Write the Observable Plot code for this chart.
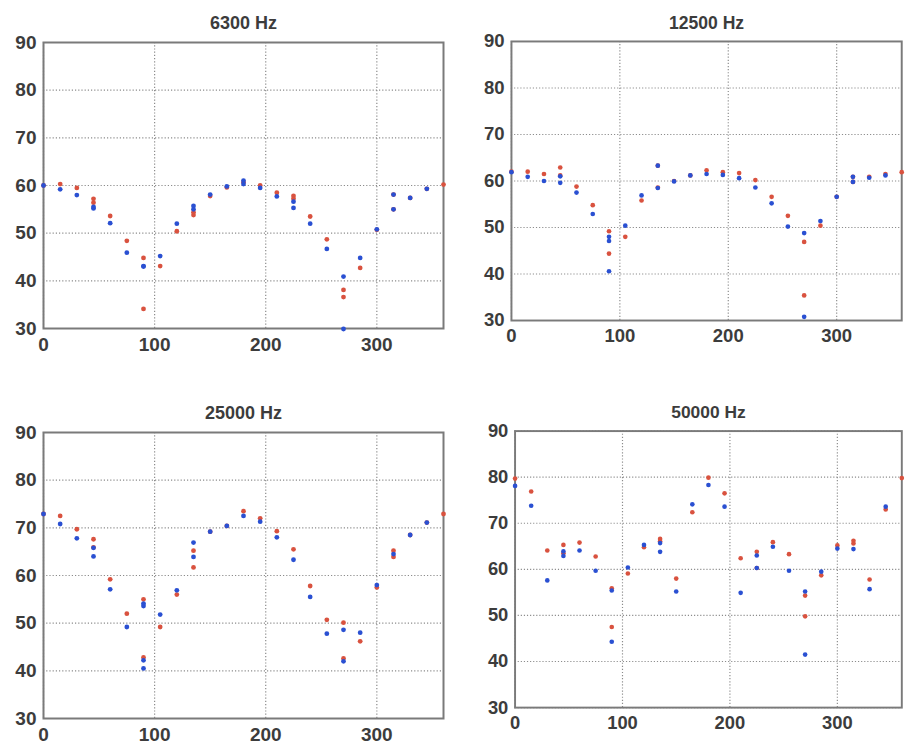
<!DOCTYPE html>
<html>
<head>
<meta charset="utf-8">
<script src="https://cdn.jsdelivr.net/npm/d3@7"></script>
<script src="https://cdn.jsdelivr.net/npm/@observablehq/plot@0.6"></script>
<style>
  html, body { margin: 0; padding: 0; background: #fff; overflow: hidden; }
  #wrap { position: relative; width: 911px; height: 746px; overflow: hidden; }
  #wrap > div { position: absolute; }
</style>
</head>
<body>
<div id="wrap">
  <div id="p1" style="left:0px;top:0px"></div>
  <div id="p2" style="left:469px;top:0px"></div>
  <div id="p3" style="left:0px;top:390px"></div>
  <div id="p4" style="left:473px;top:390px"></div>
</div>
<script>
// Panel titles
const titles = ["6300 Hz", "12500 Hz", "25000 Hz", "50000 Hz"];
const xTicks = [0, 100, 200, 300];
const yTicks = [30, 40, 50, 60, 70, 80, 90];

// Angle (deg) and level (dB) pairs for each frequency; red and blue series
const red6300 = [
  [0,60.0],[15,60.3],[30,59.5],[45,57.2],[45,56.4],[60,53.6],[75,48.4],[90,44.8],[90,34.1],
  [105,43.1],[120,50.4],[135,54.4],[135,53.8],[150,57.8],[165,59.6],[180,60.7],[195,60.0],
  [210,58.5],[225,57.8],[225,57.2],[240,53.5],[255,48.7],[270,38.1],[270,36.6],[285,42.7],
  [300,50.7],[315,58.1],[315,55.0],[330,57.4],[345,59.3],[360,60.2]
];
const blue6300 = [
  [0,60.0],[15,59.2],[30,58.0],[45,55.5],[45,55.2],[60,52.1],[75,45.9],[90,43.1],[90,43.0],
  [105,45.2],[120,52.0],[135,55.7],[135,55.0],[150,58.1],[165,59.8],[180,61.0],[180,60.3],
  [195,59.5],[210,57.7],[225,56.6],[225,55.3],[240,52.0],[255,46.7],[270,40.9],[270,29.9],
  [285,44.8],[300,50.8],[315,58.1],[315,55.0],[330,57.4],[345,59.3]
];
const red12500 = [
  [0,62.0],[15,62.0],[30,61.5],[45,62.9],[45,61.2],[60,58.8],[75,54.8],[90,49.2],[90,44.4],
  [105,48.0],[120,55.8],[135,63.3],[135,58.6],[150,60.0],[165,61.2],[180,62.3],[195,61.9],
  [210,61.7],[225,60.2],[240,56.6],[255,52.5],[270,46.9],[270,35.4],[285,50.4],[300,56.6],
  [315,60.9],[315,59.8],[330,60.9],[345,61.5],[360,61.9]
];
const blue12500 = [
  [0,61.9],[15,60.9],[30,60.0],[45,61.0],[45,59.6],[60,57.5],[75,52.9],[90,48.0],[90,47.1],
  [90,40.6],[105,50.4],[120,56.9],[135,63.3],[135,58.5],[150,59.9],[165,61.2],[180,61.5],
  [195,61.3],[210,60.6],[225,58.6],[240,55.2],[255,50.2],[270,48.8],[270,30.8],[285,51.4],
  [300,56.6],[315,60.9],[315,59.8],[330,60.7],[345,61.2]
];
const red25000 = [
  [0,72.9],[15,72.5],[30,69.7],[45,67.6],[45,65.9],[60,59.2],[75,52.0],[90,55.0],[90,42.8],
  [105,49.2],[120,56.0],[135,65.2],[135,61.7],[150,69.2],[165,70.4],[180,73.5],[195,72.0],
  [210,69.3],[225,65.5],[240,57.8],[255,50.7],[270,50.1],[270,42.6],[285,46.2],[300,57.5],
  [315,65.2],[315,63.9],[330,68.5],[345,71.1],[360,72.9]
];
const blue25000 = [
  [0,72.9],[15,70.8],[30,67.8],[45,65.8],[45,64.0],[60,57.1],[75,49.2],[90,54.1],[90,53.6],
  [90,42.2],[90,40.5],[105,51.8],[120,56.9],[135,66.9],[135,63.9],[150,69.2],[165,70.4],
  [180,72.5],[195,71.3],[210,68.0],[225,63.3],[240,55.5],[255,47.8],[270,48.6],[270,42.0],
  [285,48.0],[300,58.0],[315,64.5],[330,68.5],[345,71.1]
];
const red50000 = [
  [0,79.7],[15,76.9],[30,64.1],[45,65.3],[45,63.5],[60,65.8],[75,62.8],[90,55.9],[90,47.5],
  [105,59.1],[120,64.8],[135,66.6],[135,66.1],[150,58.0],[165,72.4],[180,79.9],[195,76.5],
  [210,62.4],[225,63.8],[225,60.3],[240,65.9],[255,63.3],[270,54.3],[270,49.8],[285,58.7],
  [300,65.2],[315,66.2],[315,65.6],[330,57.8],[345,73.0],[360,79.8]
];
const blue50000 = [
  [0,78.1],[15,73.8],[30,57.6],[45,63.9],[45,62.9],[60,64.1],[75,59.7],[90,55.4],[90,44.3],
  [105,60.4],[120,65.3],[135,65.7],[135,63.8],[150,55.2],[165,74.1],[180,78.3],[195,73.6],
  [210,54.9],[225,63.0],[225,60.3],[240,64.9],[255,59.7],[270,55.2],[270,41.5],[285,59.5],
  [300,64.5],[315,64.4],[330,55.7],[345,73.6]
];

const series = [
  [red6300, blue6300],
  [red12500, blue12500],
  [red25000, blue25000],
  [red50000, blue50000]
];

const RED = "#d9523f";
const BLUE = "#2a50d2";

function panel(i, marginBottom) {
  const [red, blue] = series[i];
  return Plot.plot({
    width: 453,
    height: 42 + 286 + marginBottom,
    marginLeft: 43,
    marginRight: 10,
    marginTop: 42,
    marginBottom: marginBottom,
    style: {fontFamily: "Liberation Sans, Arial, sans-serif", fontSize: "19px", fontWeight: "bold", color: "#3c3c3c", background: "#fff"},
    x: {domain: [0, 360], ticks: xTicks, tickSize: 0, tickPadding: 9, label: null, tickFormat: d => String(d)},
    y: {domain: [30, 90], ticks: yTicks, tickSize: 0, tickPadding: 7, label: null, tickFormat: d => String(d)},
    marks: [
      Plot.ruleX(xTicks, {x: d => d, stroke: "#8c8c8c", strokeWidth: 1.2, strokeDasharray: "1.2,2"}),
      Plot.ruleY(yTicks, {y: d => d, stroke: "#8c8c8c", strokeWidth: 1.2, strokeDasharray: "1.2,2"}),
      Plot.frame({stroke: "#7a7a7a", strokeWidth: 2}),
      Plot.dot(red, {x: d => d[0], y: d => d[1], r: 2.4, fill: RED, stroke: "none"}),
      Plot.dot(blue, {x: d => d[0], y: d => d[1], r: 2.4, fill: BLUE, stroke: "none"}),
      Plot.text([titles[i]], {frameAnchor: "top", dy: -26, text: d => d, fontSize: 18, fontWeight: "bold", fill: "#3c3c3c"})
    ]
  });
}

document.getElementById("p1").appendChild(panel(0, 32));
document.getElementById("p2").appendChild(panel(1, 32));
document.getElementById("p3").appendChild(panel(2, 42));
document.getElementById("p4").appendChild(panel(3, 42));
</script>
</body>
</html>
